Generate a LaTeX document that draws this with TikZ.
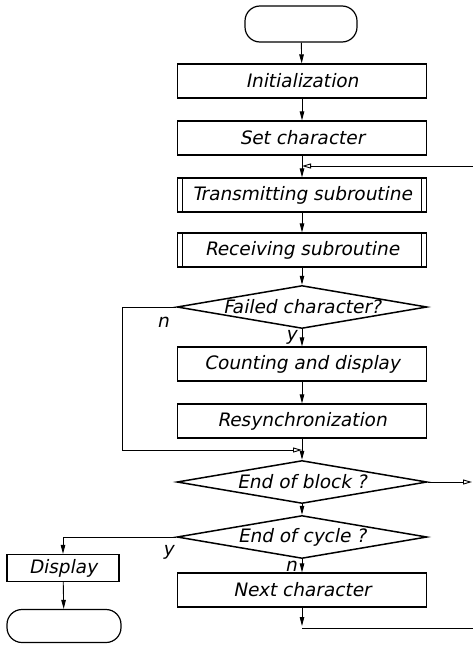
\documentclass[tikz,border=0pt]{standalone}
\usepackage{fontspec}
\usetikzlibrary{shapes.geometric,arrows.meta}
\newfontfamily\labfont[FakeSlant=0.2]{DejaVu Sans}
\begin{document}
\begin{tikzpicture}[x=1pt,y=-1pt,
  txt/.style={font=\labfont\fontsize{18.5}{21}\selectfont},
  box/.style={draw, line width=1.2pt, minimum width=249pt, minimum height=34pt, inner sep=0pt, txt},
  pbox/.style={path picture={
     \draw[line width=1pt] ([xshift=5pt]path picture bounding box.north west) -- ([xshift=5pt]path picture bounding box.south west);
     \draw[line width=1pt] ([xshift=-5pt]path picture bounding box.north east) -- ([xshift=-5pt]path picture bounding box.south east);}},
  dec/.style={draw, shape=diamond, aspect=5.8, minimum width=250pt, minimum height=43pt, inner sep=0pt, line width=1.5pt, txt},
  term/.style={draw, rounded corners=15pt, minimum width=112pt, minimum height=36pt, line width=1.2pt},
  conn/.style={line width=0.9pt},
  flow/.style={conn, -{Triangle[length=9pt,width=4.5pt]}},
  oflow/.style={conn, -{Triangle[open,length=9pt,width=5pt]}},
  lbl/.style={txt, inner sep=0pt}
]
\useasboundingbox (0,0) rectangle (473,645);

\node[term] (start) at (301,24) {};
\node[box] (init) at (302,81) {Initialization};
\node[box] (setc) at (302,138) {Set character};
\coordinate (j1) at (302,166);
\node[box,pbox] (trans) at (302,195) {Transmitting subroutine};
\node[box,pbox] (recv) at (302,250) {Receiving subroutine};
\node[dec] (fail) at (302,307) {Failed character?};
\node[box] (count) at (302,364) {Counting and display};
\node[box] (resync) at (302,421) {Resynchronization};
\coordinate (j2) at (302,450);
\node[dec] (eob) at (302,482) {End of block ?};
\node[dec] (eoc) at (302,537) {End of cycle ?};
\node[box] (next) at (302,590) {Next character};
\coordinate (jb) at (302,628);
\coordinate (rb) at (473,628);
\coordinate (rt) at (473,166);
\coordinate (re) at (472,482);
\coordinate (l1) at (122,307);
\coordinate (l2) at (122,450);
\node[box, minimum width=112pt, minimum height=27pt] (disp) at (63,568) {Display};
\node[term, minimum width=114pt, minimum height=33pt] (end) at (64,626) {};

\draw[flow] (start) -- (init);
\draw[flow] (init) -- (setc);
\draw[conn] (setc) -- (j1);
\draw[oflow] (rt) -- (j1);
\draw[flow] (j1) -- (trans);
\draw[flow] (trans) -- (recv);
\draw[flow] (recv) -- (fail);
\draw[flow] (fail) -- (count);
\node[lbl] (ly) at (291,337) {y};
\draw[flow] (count) -- (resync);
\draw[conn] (resync) -- (j2);
\draw[oflow] (fail.west) -- (l1) -- (l2) -- (j2);
\node[lbl] (ln) at (163,322) {n};
\draw[flow] (j2) -- (eob);
\draw[oflow] (eob.east) -- (re);
\draw[flow] (eob) -- (eoc);
\draw[flow] (eoc) -- (next);
\node[lbl] (ln2) at (291,566) {n};
\draw[flow] (eoc.west) -| (disp.north);
\node[lbl] (ly2) at (168,552) {y};
\draw[flow] (disp) -- (end);
\draw[flow, shorten >=2pt] (next) -- (jb);
\draw[conn] (jb) -- (rb);
\end{tikzpicture}
\end{document}
